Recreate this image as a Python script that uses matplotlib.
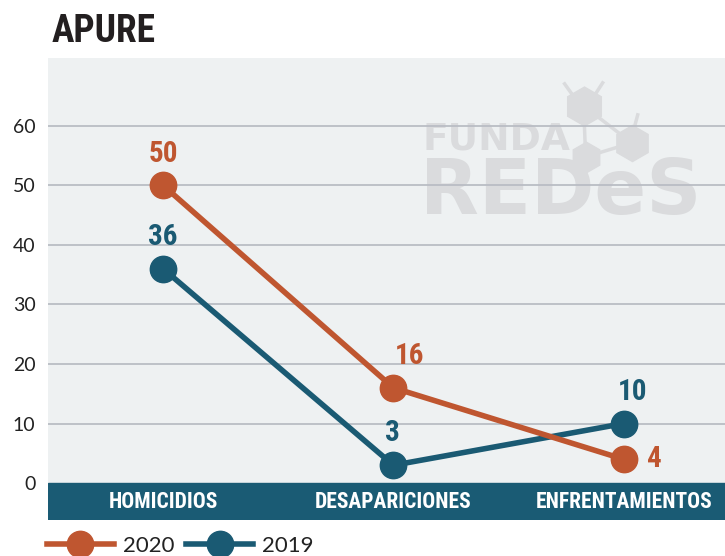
import matplotlib
matplotlib.use("Agg")
import matplotlib.pyplot as plt
from matplotlib.lines import Line2D
from matplotlib import font_manager

categories = ["HOMICIDIOS", "DESAPARICIONES", "ENFRENTAMIENTOS"]
values_2020 = [50, 16, 4]
values_2019 = [36, 3, 10]
series_names = ["2020", "2019"]
yticks = [0, 10, 20, 30, 40, 50, 60]
title = "APURE"

ORANGE = "#bf5630"
BLUE = "#1a5a73"
PANEL = "#eef1f2"
GRID = "#b9bdc4"

names = {f.name for f in font_manager.fontManager.ttflist}
COND = dict(family="DejaVu Sans", fontstretch="condensed")
for cand in ["Roboto Condensed", "Open Sans Condensed", "Liberation Sans Narrow"]:
    if cand in names:
        COND = dict(family=cand)
        break

fig = plt.figure(figsize=(7.25, 5.56), dpi=100)
fig.patch.set_facecolor("white")

ax = fig.add_axes([48/725, 36/556, 1 - 48/725, (520-58)/556])
ymin, ymax = -6.2, 71.4
ax.set_xlim(-0.5, 2.44)
ax.set_ylim(ymin, ymax)
ax.set_facecolor(PANEL)
for s in ax.spines.values():
    s.set_visible(False)

# grid
for v in yticks[1:]:
    ax.axhline(v, color=GRID, lw=1.3, zorder=1)

# dark band with categories
ax.axhspan(ymin, 0, color="#1a5b74", zorder=2)
xs = list(range(len(categories)))
for x, c in zip(xs, categories):
    ax.text(x, ymin/2, c, color="white", ha="center", va="center",
            fontsize=15.5, fontweight="bold", zorder=3, **COND)

# watermark (placed by panel pixel positions)
def px(xp, yp):
    return (xp - 163) / 230.0, (483 - yp) / 5.95

wm = "#dadbdd"
fx, fy = px(422, 150)
ax.text(fx, fy, "FUNDA", color=wm, fontsize=27, fontweight="heavy",
        ha="left", va="baseline", zorder=0.5, family="DejaVu Sans")
rx, ry = px(420, 214)
ax.text(rx, ry, "REDeS", color=wm, fontsize=55, fontweight="heavy",
        ha="left", va="baseline", zorder=0.5, family="DejaVu Sans")
hexes = [(583, 106, 28), (631, 143, 26), (585, 157, 22)]
hx = [px(a, b)[0] for a, b, _ in hexes]
hy = [px(a, b)[1] for a, b, _ in hexes]
for i, j in [(0, 1), (0, 2), (2, 1)]:
    ax.plot([hx[i], hx[j]], [hy[i], hy[j]], color=wm, lw=2.5, zorder=0.5)
for (a, b, s), x_, y_ in zip(hexes, hx, hy):
    ax.plot([x_], [y_], marker="h", markersize=s, color=wm, mec=wm, zorder=0.6, ls="none")
for (a0, b0, a1, b1) in [(564, 84, 574, 98), (602, 83, 593, 97), (637, 115, 633, 130)]:
    p0 = px(a0, b0); p1 = px(a1, b1)
    ax.plot([p0[0], p1[0]], [p0[1], p1[1]], color=wm, lw=2.5, zorder=0.5)

# lines
ax.plot(xs, values_2020, color=ORANGE, lw=4, marker="o", markersize=19,
        zorder=5, solid_capstyle="round")
ax.plot(xs, values_2019, color=BLUE, lw=4, marker="o", markersize=19,
        zorder=4, solid_capstyle="round")

lab_kw = dict(fontsize=21, fontweight="bold", zorder=6, **COND)
ax.text(0, values_2020[0] + 3.0, str(values_2020[0]), color=ORANGE, ha="center", va="bottom", **lab_kw)
ax.text(0, values_2019[0] + 3.0, str(values_2019[0]), color=BLUE, ha="center", va="bottom", **lab_kw)
ax.text(1.07, values_2020[1] + 3.0, str(values_2020[1]), color=ORANGE, ha="center", va="bottom", **lab_kw)
ax.text(0.995, values_2019[1] + 3.0, str(values_2019[1]), color=BLUE, ha="center", va="bottom", **lab_kw)
ax.text(2.04, values_2019[2] + 3.0, str(values_2019[2]), color=BLUE, ha="center", va="bottom", **lab_kw)
ax.text(2.1, values_2020[2], str(values_2020[2]), color=ORANGE, ha="left", va="center", **lab_kw)

ax.set_xticks([])
ax.set_yticks(yticks)
ax.set_yticklabels([str(v) for v in yticks], fontsize=14, color="#222222", family="Lato")
ax.tick_params(axis="y", length=0, pad=9)

# title
fig.text(52/725, 1 - 31/556, title, fontsize=27, fontweight="bold",
         color="#231f20", ha="left", va="center", **COND)

# legend
handles = [Line2D([0], [0], color=ORANGE, lw=4, marker="o", markersize=19),
           Line2D([0], [0], color=BLUE, lw=4, marker="o", markersize=19)]
leg = fig.legend(handles, series_names, loc="center left",
                 bbox_to_anchor=(47/725, 1 - 546/556), ncol=2, frameon=False,
                 borderpad=0, borderaxespad=0,
                 handlelength=3.0, handletextpad=0.4, columnspacing=0.55,
                 prop={"family": "Lato", "size": 16})
for t in leg.get_texts():
    t.set_color("#222222")

fig.savefig("out.png", dpi=100, facecolor="white")
